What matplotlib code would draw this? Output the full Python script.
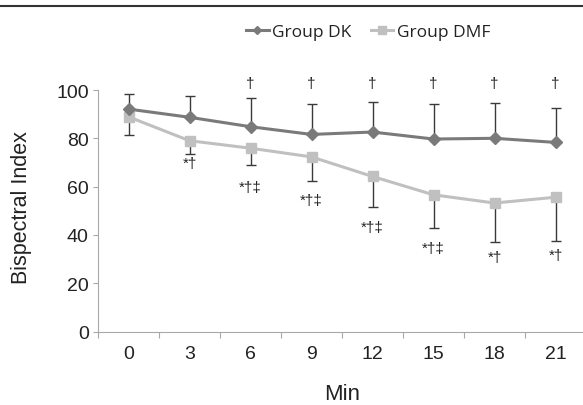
import matplotlib.pyplot as plt
from matplotlib.lines import Line2D

plt.rcParams['font.family'] = ['Liberation Sans', 'DejaVu Sans']

minutes = ["0", "3", "6", "9", "12", "15", "18", "21"]
dk_mean = [92.1, 88.7, 84.8, 81.6, 82.6, 79.7, 80.0, 78.3]
dk_sd = [6.2, 8.7, 12.0, 12.8, 12.4, 14.5, 14.5, 14.1]
dmf_mean = [88.9, 79.0, 75.9, 72.3, 64.2, 56.6, 53.2, 55.6]
dmf_sd = [7.5, 5.5, 6.8, 10.1, 12.6, 13.9, 16.3, 18.0]

# significance marks (DK above the plot, DMF under its error bars)
dk_marks = ["", "", "†", "†", "†", "†", "†", "†"]
dmf_marks = ["", "*†", "*†‡", "*†‡", "*†‡", "*†‡", "*†", "*†"]
dmf_mark_y = [0, 72.8, 62.6, 57.2, 46.2, 37.5, 33.8, 34.7]

dk_color = "#7a7a7a"
dmf_color = "#c0c0c0"
bar_color = "#3a3a3a"
axis_color = "#a8a8a8"
text_color = "#222222"

W, H = 583, 406
fig = plt.figure(figsize=(W / 100, H / 100), dpi=100)
ax = fig.add_axes([98 / W, 1 - 332.5 / H, 488 / W, (332.5 - 91) / H])

x = list(range(len(minutes)))

ax.errorbar(x, dk_mean, yerr=[[0] * len(x), dk_sd], fmt="none",
            ecolor=bar_color, elinewidth=1, capsize=3.5, capthick=1, zorder=1)
ax.errorbar(x, dmf_mean, yerr=[dmf_sd, [0] * len(x)], fmt="none",
            ecolor=bar_color, elinewidth=1, capsize=3.5, capthick=1, zorder=1)

ax.plot(x, dk_mean, color=dk_color, lw=2.2, marker="D", ms=6,
        label="Group DK", zorder=3)
ax.plot(x, dmf_mean, color=dmf_color, lw=2.2, marker="s", ms=7.5,
        label="Group DMF", zorder=2)

for i in x:
    if dk_marks[i]:
        ax.text(i, 105.6, dk_marks[i], ha="center", va="top",
                fontsize=11, color=text_color, clip_on=False)
    if dmf_marks[i]:
        ax.text(i, dmf_mark_y[i], dmf_marks[i], ha="center", va="top",
                fontsize=11, color=text_color)

ax.set_xlim(-0.5, len(x) - 0.5)
ax.set_ylim(0, 100)
ax.set_yticks([0, 20, 40, 60, 80, 100])
ax.set_xticks([i - 0.5 for i in range(len(x) + 1)])
ax.set_xticklabels([])
ax.set_xticks(x, minor=True)
ax.set_xticklabels(minutes, minor=True)
ax.tick_params(axis="x", which="major", length=4.3, color=axis_color, direction="out")
ax.tick_params(axis="x", which="minor", length=0, pad=9.5, labelsize=14, labelcolor=text_color)
ax.tick_params(axis="y", length=3.6, pad=3, color=axis_color, labelsize=14, labelcolor=text_color)

for side in ["top", "right"]:
    ax.spines[side].set_visible(False)
ax.spines["left"].set_color(axis_color)
ax.spines["bottom"].set_color(axis_color)

fig.text(21 / W, 1 - 208 / H, "Bispectral Index", rotation=90, ha="center",
         va="center", fontsize=15.5, color=text_color)
fig.text(342 / W, 1 - 395 / H, "Min", ha="center", va="center",
         fontsize=16, color=text_color)

ax.legend(loc="center", bbox_to_anchor=(368 / W, 1 - 33 / H),
          bbox_transform=fig.transFigure, ncol=2, frameon=False,
          prop={"family": "Open Sans", "size": 12.5}, markerscale=0.7,
          handlelength=1.3, handletextpad=0.2, columnspacing=1.1,
          labelcolor=text_color)

fig.add_artist(Line2D([0, 1], [1 - 7 / H, 1 - 7 / H], color="#333333", lw=1.5))

fig.savefig("out.png", dpi=100)
